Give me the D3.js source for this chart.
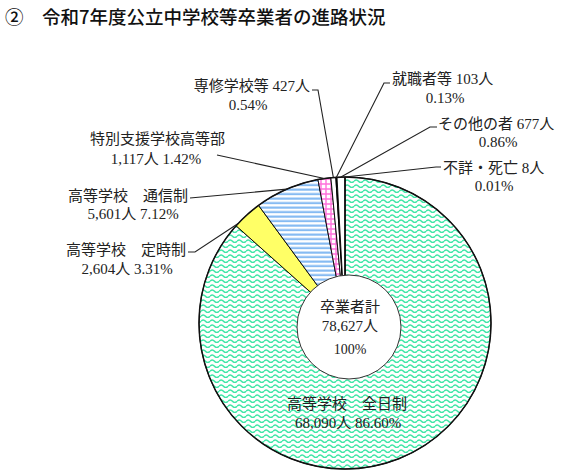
<!DOCTYPE html>
<html><head><meta charset="utf-8">
<script src="https://cdn.jsdelivr.net/npm/d3@7"></script>
<style>
html,body{margin:0;padding:0;background:#fff;}
svg{display:block;}
</style></head>
<body>
<svg id="chart" width="565" height="473"></svg>
<script>
// ---- data ----
const categories = ["高等学校　全日制","高等学校　定時制","高等学校　通信制","特別支援学校高等部","専修学校等","就職者等","その他の者","不詳・死亡"];
const counts = [68090, 2604, 5601, 1117, 427, 103, 677, 8];
const countLabels = ["68,090人","2,604人","5,601人","1,117人","427人","103人","677人","8人"];
const percentLabels = ["86.60%","3.31%","7.12%","1.42%","0.54%","0.13%","0.86%","0.01%"];
const totalLabel = ["卒業者計","78,627人","100%"];
const title = "②　令和7年度公立中学校等卒業者の進路状況";

// ---- layout ----
const W = 565, H = 473;
const cx = 345, cy = 323, R = 146;
const innerC = {x: 349, y: 327, r: 52};
const fills = ["url(#wave)","#ffff66","url(#hstripe)","url(#pgrid)","#ffffff","#000000","#ffffff","#ffffff"];
const fontFam = "'Liberation Serif','Noto Sans CJK JP',serif";

const svg = d3.select("#chart");
const defs = svg.append("defs");

// wave pattern
const pw = defs.append("pattern").attr("id","wave").attr("patternUnits","userSpaceOnUse")
  .attr("width",9).attr("height",5);
pw.append("rect").attr("width",9).attr("height",5).attr("fill","#fff");
pw.append("path").attr("d","M0,3.2 Q2.25,0.6 4.5,3.2 T9,3.2").attr("fill","none")
  .attr("stroke","#3ee6a6").attr("stroke-width",1.5);
// horizontal stripe
const ps = defs.append("pattern").attr("id","hstripe").attr("patternUnits","userSpaceOnUse")
  .attr("width",8).attr("height",4.5);
ps.append("rect").attr("width",8).attr("height",4.5).attr("fill","#fff");
ps.append("rect").attr("y",0.5).attr("width",8).attr("height",2.2).attr("fill","#86bbf2");
// pink grid
const pg = defs.append("pattern").attr("id","pgrid").attr("patternUnits","userSpaceOnUse")
  .attr("width",5).attr("height",5);
pg.append("rect").attr("width",5).attr("height",5).attr("fill","#fff");
pg.append("path").attr("d","M0,1H5M1,0V5").attr("stroke","#ff70dc").attr("stroke-width",1.4);

// title
svg.append("text").attr("x",5).attr("y",24).text(title)
  .attr("font-family","'Noto Sans CJK JP',sans-serif").attr("font-size",18.5)
  .attr("font-weight",500).attr("fill","#111");

const pie = d3.pie().sort(null).value(d=>d)(counts);
const arc = d3.arc().innerRadius(0).outerRadius(R);

const g = svg.append("g").attr("transform",`translate(${cx},${cy})`);
g.selectAll("path.slice").data(pie).join("path").attr("class","slice")
  .attr("d",arc).attr("fill",(d,i)=>fills[i])
  .attr("stroke","#000").attr("stroke-width",0.9).attr("stroke-linejoin","round");
g.append("circle").attr("r",R).attr("fill","none").attr("stroke","#111").attr("stroke-width",1.5);

// inner circle
svg.append("circle").attr("cx",innerC.x).attr("cy",innerC.y).attr("r",innerC.r)
  .attr("fill","#fff").attr("stroke","#333").attr("stroke-width",1);

const labelLayout = [
  {i:0, lines:[[347,409,"middle"],[348,428,"middle"]], leader:null},
  {i:1, lines:[[186,255,"end"],[127,274,"middle"]], leader:[[188,252],[195,252]], frac:0.1, rf:1.0},
  {i:2, lines:[[188,201,"end"],[133,219,"middle"]], leader:[[190,198]], frac:0.5, rf:1.0},
  {i:3, lines:[[225,144,"end"],[156,164,"middle"]], leader:[[217,155]], frac:0.5, rf:1.0},
  {i:4, lines:[[310,91,"end"],[248,110,"middle"]], leader:[[312,90],[318,90]], frac:0.5, rf:1.0},
  {i:5, lines:[[392,84,"start"],[445,103,"middle"]], leader:[[390,83],[384,83]], frac:0.5, rf:1.0},
  {i:6, lines:[[438,129,"start"],[498,147,"middle"]], leader:[[437,127],[430,127]], frac:0.5, rf:1.0},
  {i:7, lines:[[443,173,"start"],[494,191,"middle"]], leader:[[441,167],[436,167]], frac:0.5, rf:1.0}
];

const lineGen = d3.line();
labelLayout.forEach(L=>{
  const d = pie[L.i];
  const t1 = L.i===0 ? categories[L.i] :
    (L.i>=4 ? categories[L.i]+" "+countLabels[L.i] : categories[L.i]);
  const t2 = L.i>=4 ? percentLabels[L.i] : countLabels[L.i]+" "+percentLabels[L.i];
  [t1,t2].forEach((t,k)=>{
    svg.append("text").attr("x",L.lines[k][0]).attr("y",L.lines[k][1])
      .attr("text-anchor",L.lines[k][2]).text(t)
      .attr("font-family",fontFam).attr("font-size",15).attr("fill","#222");
  });
  if(L.leader){
    const a = d.startAngle + (d.endAngle-d.startAngle)*L.frac;
    const end = [cx + R*L.rf*Math.sin(a), cy - R*L.rf*Math.cos(a)];
    const pts = L.leader.concat([end]);
    svg.append("path").attr("d",lineGen(pts)).attr("fill","none")
      .attr("stroke","#222").attr("stroke-width",1.1);
  }
});

// center text
const ct = [[innerC.x+1,312,totalLabel[0]],[innerC.x+1,331,totalLabel[1]],[innerC.x+1,354,totalLabel[2]]];
ct.forEach((c,k)=>{
  svg.append("text").attr("x",c[0]).attr("y",c[1]).attr("text-anchor","middle").text(c[2])
    .attr("font-family",fontFam).attr("font-size",k===2?14:15).attr("fill","#222");
});
</script>
</body></html>
